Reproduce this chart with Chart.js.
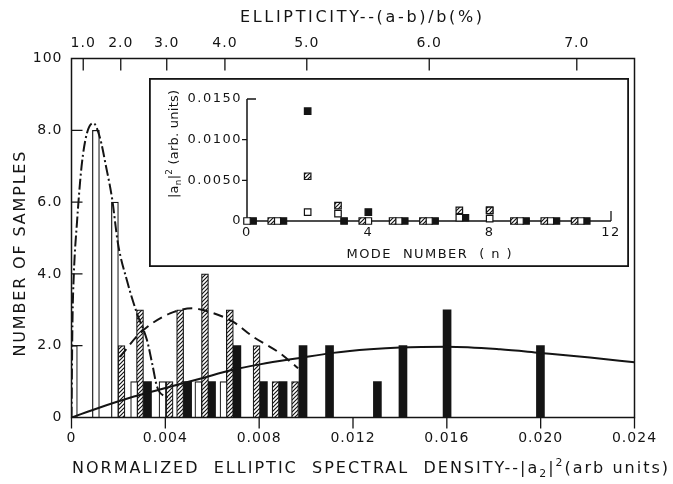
<!DOCTYPE html>
<html><head><meta charset="utf-8">
<script src="https://cdn.jsdelivr.net/npm/chart.js@4.4.1/dist/chart.umd.min.js"></script>
<style>
html,body{margin:0;padding:0;background:#fff;}
#wrap{position:relative;width:673px;height:484px;overflow:hidden;}
#main{position:absolute;left:0;top:0;}
#inset{position:absolute;left:149px;top:78px;}
</style></head><body>
<div id="wrap"><canvas id="main" width="673" height="484"></canvas><canvas id="inset" width="480" height="189"></canvas></div>
<script>
// ---------- tick labels ----------
const xTickValues = [0, 0.004, 0.008, 0.012, 0.016, 0.020, 0.024];
const xTickLabels = ['0', '0.004', '0.008', '0.012', '0.016', '0.020', '0.024'];
const yTickValues = [0, 2, 4, 6, 8, 10];
const yTickLabels = ['0', '2.0', '4.0', '6.0', '8.0', '100'];
const ellipTickPos = [0.00050, 0.00210, 0.00406, 0.00654, 0.01003, 0.01525, 0.02154];
const ellipTickLabels = ['1.0', '2.0', '3.0', '4.0', '5.0', '6.0', '7.0'];

// ---------- histogram bars (|a2|^2 , number of samples) ----------
const openX = [0.0001, 0.00104, 0.00185, 0.00267, 0.00388, 0.00541, 0.00648];
const openN = [2, 8, 6, 1, 1, 1, 1];
const hatchX = [0.00213, 0.00292, 0.00418, 0.00463, 0.00569, 0.00675, 0.00789, 0.00870, 0.00953];
const hatchN = [2, 3, 1, 3, 4, 3, 2, 1, 1];
const blackX = [0.00324, 0.00495, 0.00597, 0.00705, 0.00818, 0.00902, 0.00987, 0.01100, 0.01304, 0.01413, 0.01601, 0.01999];
const blackN = [1, 1, 1, 2, 1, 1, 2, 2, 1, 2, 3, 2];

// ---------- fitted curves ----------
const dashDotX = [0, 0.00004, 0.0001, 0.00023, 0.00043, 0.00065, 0.00093, 0.00121, 0.00147, 0.00173, 0.00198, 0.00237, 0.00279, 0.00322, 0.00344, 0.00365, 0.00408, 0.00421];
const dashDotY = [0, 2.6, 4.0, 5.4, 7.0, 7.9, 8.2, 7.8, 7.0, 6.1, 4.85, 3.8, 2.9, 2.15, 1.5, 0.85, 0.56, 0.5];
const dashedX = [0.00207, 0.00292, 0.00420, 0.00518, 0.00556, 0.00688, 0.00774, 0.00889, 0.00966];
const dashedY = [1.69, 2.35, 2.9, 3.04, 3.0, 2.67, 2.25, 1.79, 1.37];
const solidX = [0, 0.00121, 0.00249, 0.00377, 0.00548, 0.00688, 0.00803, 0.00974, 0.01115, 0.01272, 0.01401, 0.01601, 0.01827, 0.01997, 0.02210, 0.024];
const solidY = [0, 0.28, 0.55, 0.78, 1.08, 1.33, 1.48, 1.66, 1.8, 1.9, 1.95, 1.97, 1.9, 1.8, 1.67, 1.54];

// ---------- inset: |a_n|^2 vs mode number ----------
const modes = [0, 1, 2, 3, 4, 5, 6, 7, 8, 9, 10, 11];
const insetHatch = [0, 0, 0.0055, 0.0019, 0, 0, 0, 0.0013, 0.0013, 0, 0, 0];
const insetOpen  = [0, 0, 0.0011, 0.0009, 0, 0, 0, 0.0004, 0.0003, 0, 0, 0];
const insetBlack = [0, 0, 0.0135, 0, 0.0011, 0, 0, 0.0004, 0.0013, 0, 0, 0];
const insetXTicks = [0, 4, 8, 12];
const insetXLabels = ['0', '4', '8', '12'];
const insetYTicks = [0, 0.005, 0.010, 0.015];
const insetYLabels = ['0', '0.0050', '0.0100', '0.0150'];

// ---------- styling ----------
const INK = '#141414';
const FAMILY = '"DejaVu Sans", sans-serif';
const pts = (xs, ys) => xs.map((x, i) => ({x: x, y: ys[i]}));

function makeHatch(ctx) {
  const c = document.createElement('canvas');
  c.width = 4; c.height = 4;
  const g = c.getContext('2d');
  g.fillStyle = '#fff'; g.fillRect(0, 0, 4, 4);
  g.strokeStyle = INK; g.lineWidth = 1.2;
  g.beginPath();
  g.moveTo(0, 4); g.lineTo(4, 0);
  g.moveTo(-1, 1); g.lineTo(1, -1);
  g.moveTo(3, 5); g.lineTo(5, 3);
  g.stroke();
  return ctx.createPattern(c, 'repeat');
}

function drawRich(ctx, segs, cx, cy, width, size, rot) {
  ctx.save();
  ctx.translate(cx, cy);
  if (rot) ctx.rotate(rot);
  ctx.textAlign = 'left';
  ctx.textBaseline = 'alphabetic';
  ctx.fillStyle = INK;
  ctx.letterSpacing = '0px';
  const items = segs.map(s => {
    const fs = (s.sub || s.sup) ? size * 0.68 : size;
    ctx.font = fs + 'px ' + FAMILY;
    return {s: s, fs: fs, w: ctx.measureText(s.t).width, n: Array.from(s.t).length};
  });
  const total = items.reduce((a, b) => a + b.w, 0);
  const nch = items.reduce((a, b) => a + b.n, 0);
  const sp = (width - total) / Math.max(1, nch - 1);
  let x = -width / 2;
  const base = size * 0.36;
  items.forEach(it => {
    ctx.font = it.fs + 'px ' + FAMILY;
    ctx.letterSpacing = sp.toFixed(2) + 'px';
    const dy = it.s.sub ? size * 0.28 : (it.s.sup ? -size * 0.42 : 0);
    ctx.fillText(it.s.t, x, base + dy);
    x += it.w + sp * it.n;
  });
  ctx.restore();
}

function seg(ctx, x1, y1, x2, y2) { ctx.moveTo(x1, y1); ctx.lineTo(x2, y2); }

// ---------- main chart ----------
const mainCanvas = document.getElementById('main');
const mainCtx = mainCanvas.getContext('2d');
const hatchMain = makeHatch(mainCtx);

const mainPlugin = {
  id: 'mainDeco',
  beforeLayout(chart) { chart.ctx.letterSpacing = '1px'; },
  beforeDraw(chart) {
    const ctx = chart.ctx;
    ctx.save(); ctx.fillStyle = '#fff'; ctx.fillRect(0, 0, chart.width, chart.height); ctx.restore();
    ctx.letterSpacing = '1px';
  },
  afterDraw(chart) {
    const {ctx, chartArea: a, scales} = chart;
    ctx.save();
    ctx.letterSpacing = '0px';
    ctx.strokeStyle = INK;
    ctx.lineWidth = 1.5;
    ctx.strokeRect(a.left, a.top, a.right - a.left, a.bottom - a.top);
    ctx.lineWidth = 1.3;
    ctx.beginPath();
    xTickValues.forEach(v => { const x = scales.x.getPixelForValue(v); seg(ctx, x, a.bottom, x, a.bottom + 11); });
    yTickValues.forEach(v => {
      if (v <= 0 || v >= 10) return;
      const y = scales.y.getPixelForValue(v);
      seg(ctx, a.left, y, a.left + 11, y);
    });
    ellipTickPos.forEach(v => { const x = scales.x2.getPixelForValue(v); seg(ctx, x, a.top, x, a.top + 12); });
    ctx.stroke();
    ctx.restore();
    drawRich(ctx, [{t: 'NORMALIZED  ELLIPTIC  SPECTRAL  DENSITY--|a'}, {t: '2', sub: true}, {t: '|'}, {t: '2', sup: true}, {t: '(arb units)'}], 370, 467, 596, 16, 0);
    drawRich(ctx, [{t: 'ELLIPTICITY--(a-b)/b(%)'}], 361, 16, 242, 16, 0);
    drawRich(ctx, [{t: 'NUMBER OF SAMPLES'}], 19, 254, 205, 16, -Math.PI / 2);
  }
};

const lineBase = {type: 'line', borderColor: INK, borderWidth: 2, pointRadius: 0, fill: false, cubicInterpolationMode: 'monotone', order: 0};
const barBase = {type: 'bar', borderColor: INK, grouped: false, order: 1, borderSkipped: 'start'};
const noGrid = {display: false, drawTicks: false, drawOnChartArea: false};

new Chart(mainCtx, {
  type: 'bar',
  data: {datasets: [
    Object.assign({}, lineBase, {data: pts(dashDotX, dashDotY), borderDash: [11, 3, 2, 3]}),
    Object.assign({}, lineBase, {data: pts(dashedX, dashedY), borderDash: [10, 6]}),
    Object.assign({}, lineBase, {data: pts(solidX, solidY)}),
    Object.assign({}, barBase, {data: pts(openX, openN), backgroundColor: '#fff', borderWidth: 1.2, barThickness: 7}),
    Object.assign({}, barBase, {data: pts(hatchX, hatchN), backgroundColor: hatchMain, borderWidth: 1.2, barThickness: 7}),
    Object.assign({}, barBase, {data: pts(blackX, blackN), backgroundColor: INK, borderWidth: 0, barThickness: 8})
  ]},
  options: {
    responsive: false, devicePixelRatio: 1, animation: false,
    layout: {padding: {left: 0, right: 38.5, top: 0, bottom: 0}},
    plugins: {legend: {display: false}, tooltip: {enabled: false}},
    scales: {
      x: {
        type: 'linear', position: 'bottom', min: 0, max: 0.024, offset: false,
        afterBuildTicks: s => { s.ticks = xTickValues.map(v => ({value: v})); },
        afterFit: s => { s.height = 66.5; },
        grid: Object.assign({offset: false}, noGrid),
        border: {display: false},
        ticks: {callback: (v, i) => xTickLabels[i], color: INK, font: {family: FAMILY, size: 14}, padding: 12, maxRotation: 0, autoSkip: false}
      },
      x2: {
        type: 'linear', position: 'top', min: 0, max: 0.024, offset: false,
        afterBuildTicks: s => { s.ticks = ellipTickPos.map(v => ({value: v})); },
        afterFit: s => { s.height = 58.5; },
        grid: noGrid,
        border: {display: false},
        ticks: {callback: (v, i) => ellipTickLabels[i], color: INK, font: {family: FAMILY, size: 14}, padding: 7, maxRotation: 0, autoSkip: false}
      },
      y: {
        type: 'linear', min: 0, max: 10,
        afterBuildTicks: s => { s.ticks = yTickValues.map(v => ({value: v})); },
        afterFit: s => { s.width = 71.5; },
        grid: noGrid,
        border: {display: false},
        ticks: {callback: (v, i) => yTickLabels[i], color: INK, font: {family: FAMILY, size: 14}, padding: 9, autoSkip: false}
      }
    }
  },
  plugins: [mainPlugin]
});

// ---------- inset chart ----------
const insetCanvas = document.getElementById('inset');
const insetCtx = insetCanvas.getContext('2d');
const hatchInset = makeHatch(insetCtx);
const JIT = 0.2;
const insetPts = (vals, off) => modes.map((m, i) => ({x: m + (vals[i] < 0.0006 ? off : 0), y: vals[i]}));

const insetPlugin = {
  id: 'insetDeco',
  beforeLayout(chart) { chart.ctx.letterSpacing = '1.5px'; },
  beforeDraw(chart) {
    const ctx = chart.ctx;
    ctx.save(); ctx.fillStyle = '#fff'; ctx.fillRect(0, 0, chart.width, chart.height);
    ctx.strokeStyle = INK; ctx.lineWidth = 1.8;
    ctx.strokeRect(0.9, 0.9, chart.width - 1.8, chart.height - 1.8);
    ctx.restore();
    ctx.letterSpacing = '1.5px';
  },
  beforeDatasetsDraw(chart) {
    const {ctx, scales} = chart;
    const sx = scales.x, sy = scales.y;
    const x0 = sx.getPixelForValue(0), x12 = sx.getPixelForValue(12);
    const y0 = sy.getPixelForValue(0), yTop = sy.getPixelForValue(0.015);
    ctx.save(); ctx.strokeStyle = INK; ctx.lineWidth = 1.5;
    ctx.beginPath();
    seg(ctx, x0, y0, x12, y0);
    seg(ctx, x0, y0, x0, yTop);
    ctx.stroke();
    ctx.lineWidth = 1.3;
    ctx.beginPath();
    seg(ctx, x12, y0, x12, y0 - 10);
    seg(ctx, x0, yTop, x0 + 9, yTop);
    insetYTicks.forEach(v => {
      if (v <= 0 || v >= 0.015) return;
      const y = sy.getPixelForValue(v);
      seg(ctx, x0 - 5, y, x0, y);
    });
    ctx.stroke();
    ctx.restore();
  },
  afterDraw(chart) {
    const ctx = chart.ctx;
    drawRich(ctx, [{t: '|a'}, {t: 'n', sub: true}, {t: '|'}, {t: '2', sup: true}, {t: ' (arb. units)'}], 24, 66, 108, 13, -Math.PI / 2);
    drawRich(ctx, [{t: 'MODE  NUMBER  ( n )'}], 280, 175, 165, 13, 0);
  }
};

const markBase = {pointStyle: 'rect', pointRadius: 4.6, pointHoverRadius: 4.6, borderColor: INK, borderWidth: 1.2, showLine: false, clip: false};
new Chart(insetCtx, {
  type: 'scatter',
  data: {datasets: [
    Object.assign({}, markBase, {data: insetPts(insetHatch, -JIT), backgroundColor: hatchInset}),
    Object.assign({}, markBase, {data: insetPts(insetOpen, 0), backgroundColor: '#fff'}),
    Object.assign({}, markBase, {data: insetPts(insetBlack, JIT), backgroundColor: INK})
  ]},
  options: {
    responsive: false, devicePixelRatio: 1, animation: false,
    layout: {padding: {left: 0, right: 18, top: 21, bottom: 0}},
    plugins: {legend: {display: false}, tooltip: {enabled: false}},
    scales: {
      x: {
        type: 'linear', min: 0, max: 12,
        afterBuildTicks: s => { s.ticks = insetXTicks.map(v => ({value: v})); },
        afterFit: s => { s.height = 46; },
        grid: noGrid,
        border: {display: false},
        ticks: {callback: (v, i) => insetXLabels[i], color: INK, font: {family: FAMILY, size: 13}, padding: 4, maxRotation: 0, autoSkip: false}
      },
      y: {
        type: 'linear', min: 0, max: 0.015,
        afterBuildTicks: s => { s.ticks = insetYTicks.map(v => ({value: v})); },
        afterFit: s => { s.width = 98; },
        grid: noGrid,
        border: {display: false},
        ticks: {callback: (v, i) => insetYLabels[i], color: INK, font: {family: FAMILY, size: 13}, padding: 5, autoSkip: false}
      }
    }
  },
  plugins: [insetPlugin]
});
</script>
</body></html>
